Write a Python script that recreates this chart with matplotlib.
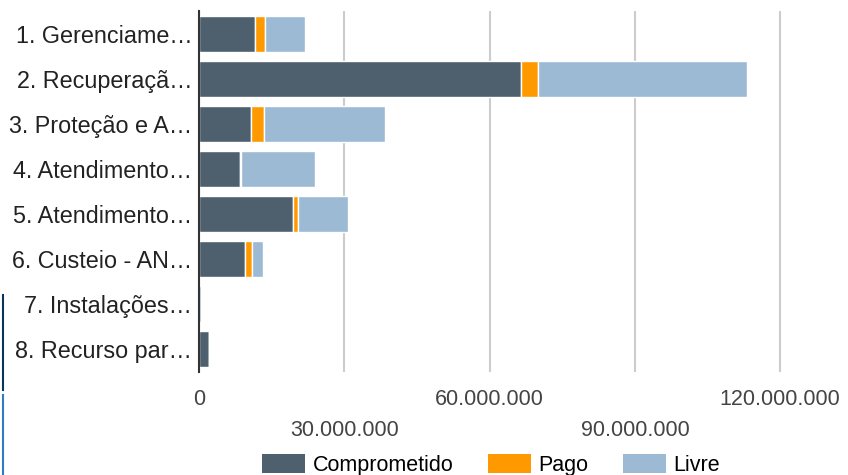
import matplotlib
matplotlib.use("Agg")
import matplotlib.pyplot as plt
from matplotlib.patches import Patch
from matplotlib.lines import Line2D
import numpy as np

plt.rcParams['font.family'] = ['Liberation Sans', 'DejaVu Sans']

categories = [
    "1. Gerenciame…",
    "2. Recuperaçã…",
    "3. Proteção e A…",
    "4. Atendimento…",
    "5. Atendimento…",
    "6. Custeio - AN…",
    "7. Instalações…",
    "8. Recurso par…",
]
comprometido = [11.5e6, 66.4e6, 10.8e6, 8.4e6, 19.4e6, 9.4e6, 0.0, 2.0e6]
pago = [2.1e6, 3.5e6, 2.5e6, 0.25e6, 1.1e6, 1.45e6, 0.0, 0.0]
livre = [8.3e6, 43.2e6, 25.0e6, 15.3e6, 10.3e6, 2.3e6, 0.35e6, 0.25e6]
series_names = ["Comprometido", "Pago", "Livre"]
colors = ["#4e5f6d", "#ff9900", "#9cbad4"]
xticks = [0, 30e6, 60e6, 90e6, 120e6]

W, H = 848, 475
fig = plt.figure(figsize=(W / 100, H / 100), dpi=100)
left_px, top_px, bottom_px = 199.2, 11, 372
ax = fig.add_axes([left_px / W, 1 - bottom_px / H, 1 - left_px / W, (bottom_px - top_px) / H])

y = np.arange(len(categories))
comp = np.array(comprometido)
pg = np.array(pago)
lv = np.array(livre)
ax.barh(y, comp, height=0.8, color=colors[0], edgecolor="white", linewidth=1.0, zorder=3)
ax.barh(y, pg, left=comp, height=0.8, color=colors[1], edgecolor="white", linewidth=1.0, zorder=3)
ax.barh(y, lv, left=comp + pg, height=0.8, color=colors[2], edgecolor="white", linewidth=1.0, zorder=3)

ax.set_xlim(0, 134e6)
ax.set_ylim(len(categories) - 0.5, -0.5)
ax.set_yticks(y)
ax.set_yticklabels(categories, fontsize=16.8, color="#222222")
ax.tick_params(axis="y", length=0, pad=5)

def fmt(v):
    return f"{int(v):,}".replace(",", ".")

labels = []
for i, t in enumerate(xticks):
    s = fmt(t)
    labels.append(s if i % 2 == 0 else "\n" + s)
ax.set_xticks(xticks)
ax.set_xticklabels(labels, fontsize=15.5, color="#444444")
for lbl in ax.get_xticklabels():
    lbl.set_linespacing(1.65)
ax.tick_params(axis="x", length=0, pad=12)

ax.grid(axis="x", color="#cccccc", linewidth=1.5, zorder=0)
ax.set_axisbelow(True)
for s in ["top", "right", "bottom"]:
    ax.spines[s].set_visible(False)
ax.spines["left"].set_color("#333333")
ax.spines["left"].set_linewidth(1.5)
ax.spines["left"].set_zorder(5)

handles = [Patch(facecolor=c, edgecolor="none") for c in colors]
fig.legend(handles, series_names, loc="lower center", bbox_to_anchor=(491 / W, -0.002),
           ncol=3, frameon=False, fontsize=15.5, handlelength=2.0, handleheight=1.0,
           handletextpad=0.35, columnspacing=1.6, borderpad=0, borderaxespad=0)

# stray edge lines at left border
fig.add_artist(Line2D([2.5 / W, 2.5 / W], [1 - 295 / H, 1 - 390 / H], color="#0b3558", linewidth=1.5))
fig.add_artist(Line2D([2.5 / W, 2.5 / W], [1 - 395 / H, 0], color="#2d7bc0", linewidth=1.5))

fig.savefig("out.png", dpi=100)
